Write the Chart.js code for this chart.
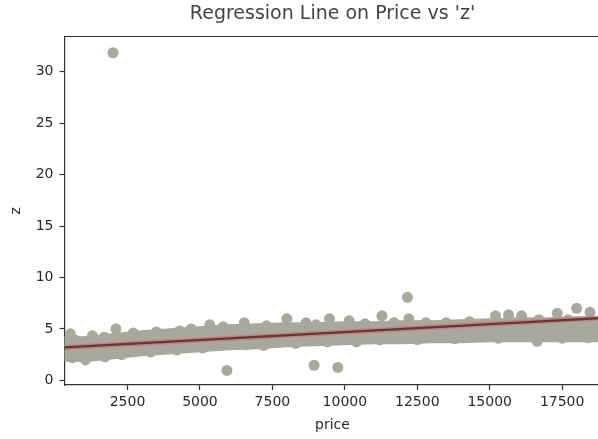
<!DOCTYPE html>
<html>
<head>
<meta charset="utf-8">
<script src="https://cdn.jsdelivr.net/npm/chart.js@4.4.1/dist/chart.umd.min.js"></script>
<style>
  html, body { margin: 0; padding: 0; background: #fff; overflow: hidden; }
  canvas { display: block; }
</style>
</head>
<body>
<canvas id="regChart" width="606" height="439"></canvas>
<script>
// tick labels
const xTicks = [2500, 5000, 7500, 10000, 12500, 15000, 17500];
const yTicks = [0, 5, 10, 15, 20, 25, 30];

// dense cloud of points: upper / lower edge of the band
const bandPrice = [326, 1000, 2000, 3000, 4000, 5000, 6000, 7000, 8000, 9000, 10000,
                   11000, 12000, 13000, 14000, 15000, 16000, 17000, 18000, 18823];
const bandTopZ  = [3.75, 3.75, 4.04, 4.33, 4.52, 4.72, 4.91, 5.01, 5.11, 5.11, 5.20,
                   5.20, 5.30, 5.30, 5.40, 5.50, 5.59, 5.59, 5.69, 5.69];
const bandLowZ  = [2.38, 2.29, 2.58, 2.87, 3.06, 3.26, 3.45, 3.55, 3.75, 3.84, 3.94,
                   4.04, 4.04, 4.14, 4.14, 4.23, 4.23, 4.23, 4.23, 4.23];

// single points sticking out of the band
const edgePrice = [530, 1290, 2100, 5340, 6530, 8000, 8660, 9470, 10150, 11280, 12210,
                   15200, 15650, 16100, 17330, 18000, 18460,
                   700, 1700, 2700, 3500, 4300, 4700, 5800, 7300, 9000, 10700, 11700,
                   12800, 13500, 14300, 16700, 17700,
                   1050, 1720, 5780, 6600, 10400, 11200, 16640,
                   600, 2300, 3300, 4200, 5100, 7200, 8300, 9400, 12500, 13800, 15300,
                   17500, 18400];
const edgeZ     = [4.52, 4.33, 5.01, 5.40, 5.59, 5.98, 5.59, 5.98, 5.79, 6.27, 5.98,
                   6.27, 6.37, 6.27, 6.52, 7.00, 6.61,
                   3.9, 4.2, 4.6, 4.7, 4.8, 5.0, 5.2, 5.3, 5.4, 5.5, 5.6,
                   5.6, 5.6, 5.7, 5.9, 5.9,
                   1.99, 2.29, 3.65, 3.45, 3.75, 3.94, 3.80,
                   2.2, 2.5, 2.75, 2.95, 3.15, 3.4, 3.6, 3.75, 3.95, 4.05, 4.1,
                   4.1, 4.15];

// outliers
const outPrice = [2000, 5930, 8940, 9760, 12160];
const outZ     = [31.84, 0.97, 1.46, 1.26, 8.07];

// fitted regression line (end points)
const fitPrice = [326, 18823];
const fitZ     = [3.2, 6.05];

const pts = (xs, ys) => xs.map((x, i) => ({ x: x, y: ys[i] }));

const dotColor = "rgb(168, 168, 157)";
const dotR = 5.5;

const frame = {
  id: "frame",
  afterDraw(chart) {
    const { ctx, chartArea } = chart;
    ctx.save();
    ctx.strokeStyle = "#333";
    ctx.lineWidth = 1.2;
    ctx.beginPath();
    ctx.moveTo(chartArea.left, chartArea.top);
    ctx.lineTo(chartArea.right, chartArea.top);
    ctx.stroke();
    ctx.restore();
  }
};

new Chart(document.getElementById("regChart"), {
  type: "scatter",
  data: {
    datasets: [
      {
        // upper edge of the band, filled down to the lower edge
        data: pts(bandPrice, bandTopZ),
        showLine: true,
        borderColor: dotColor,
        backgroundColor: dotColor,
        borderWidth: dotR * 2,
        borderJoinStyle: "round",
        borderCapStyle: "round",
        pointRadius: 0,
        fill: "+1",
        order: 5
      },
      {
        data: pts(bandPrice, bandLowZ),
        showLine: true,
        borderColor: dotColor,
        borderWidth: dotR * 2,
        borderJoinStyle: "round",
        borderCapStyle: "round",
        pointRadius: 0,
        fill: false,
        order: 5
      },
      {
        data: pts(edgePrice, edgeZ),
        backgroundColor: dotColor,
        borderWidth: 0,
        pointRadius: dotR,
        order: 4
      },
      {
        data: pts(outPrice, outZ),
        backgroundColor: dotColor,
        borderWidth: 0,
        pointRadius: dotR,
        order: 3
      },
      {
        // confidence band around the fit
        data: pts(fitPrice, fitZ),
        showLine: true,
        borderColor: "rgba(185, 120, 120, 0.7)",
        borderWidth: 5,
        pointRadius: 0,
        order: 2
      },
      {
        data: pts(fitPrice, fitZ),
        showLine: true,
        borderColor: "rgb(112, 50, 55)",
        borderWidth: 2.2,
        pointRadius: 0,
        order: 1
      }
    ]
  },
  options: {
    responsive: false,
    animation: false,
    devicePixelRatio: 1,
    layout: { padding: { left: 0, right: 3.5, top: 0, bottom: 0 } },
    plugins: {
      legend: { display: false },
      tooltip: { enabled: false },
      title: {
        display: true,
        fullSize: false,
        text: "Regression Line on Price vs 'z'",
        color: "#444",
        font: { family: "DejaVu Sans", size: 19, weight: "normal" },
        padding: { top: 3, bottom: 10.7 }
      }
    },
    scales: {
      x: {
        type: "linear",
        min: 326,
        max: 18823,
        afterFit: (scale) => { scale.height = 54; },
        afterBuildTicks: (scale) => { scale.ticks = xTicks.map((v) => ({ value: v })); },
        ticks: {
          color: "#2a2a2a",
          font: { family: "DejaVu Sans", size: 14 },
          padding: 4,
          maxRotation: 0,
          callback: (v) => String(v)
        },
        grid: { display: true, drawOnChartArea: false, tickLength: 5, tickColor: "#333", tickWidth: 1.2 },
        border: { display: true, color: "#333", width: 1.2 },
        title: {
          display: true,
          text: "price",
          color: "#2a2a2a",
          font: { family: "DejaVu Sans", size: 14 },
          padding: { top: 0, bottom: 5 }
        }
      },
      y: {
        type: "linear",
        min: -0.45,
        max: 33.42,
        afterFit: (scale) => { scale.width = 64.5; },
        afterBuildTicks: (scale) => { scale.ticks = yTicks.map((v) => ({ value: v })); },
        ticks: {
          color: "#2a2a2a",
          font: { family: "DejaVu Sans", size: 14 },
          padding: 6,
          callback: (v) => String(v)
        },
        grid: { display: true, drawOnChartArea: false, tickLength: 5, tickColor: "#333", tickWidth: 1.2 },
        border: { display: true, color: "#333", width: 1.2 },
        title: {
          display: true,
          text: "z",
          color: "#2a2a2a",
          font: { family: "DejaVu Sans", size: 14 },
          padding: { top: 8, bottom: 0 }
        }
      }
    }
  },
  plugins: [frame]
});
</script>
</body>
</html>
